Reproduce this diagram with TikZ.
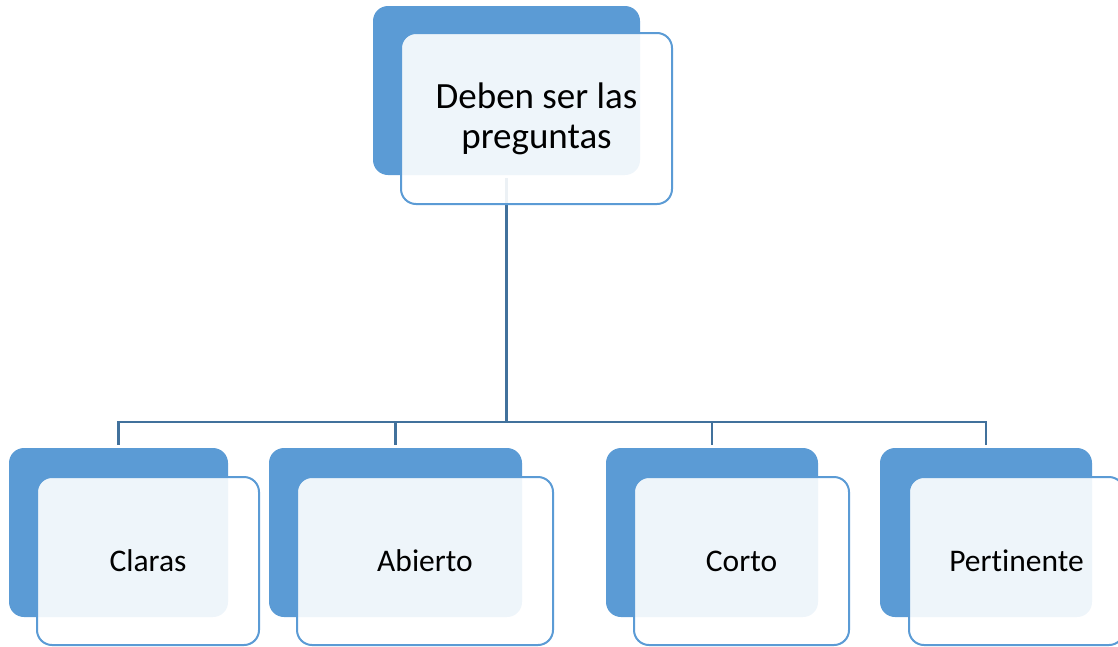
\documentclass[tikz,border=0pt]{standalone}
\usepackage{fontspec}
\setmainfont{Carlito}[Ligatures=NoCommon]
\definecolor{boxblue}{HTML}{5B9BD5}
\definecolor{linkblue}{HTML}{41719C}
\tikzset{
	back/.style={rectangle, rounded corners=15pt, fill=boxblue, inner sep=0pt, outer sep=0pt, minimum height=169pt},
	front/.style={rectangle, rounded corners=15pt, draw=boxblue, line width=2pt, fill=white, fill opacity=0.9, text opacity=1, inner sep=0pt, outer sep=0pt, align=center, minimum height=168pt, font=\fontsize{31.5}{37}\selectfont},
	link/.style={draw=linkblue, line width=2.2pt}
}
\begin{document}
\begin{tikzpicture}[x=1pt,y=-1pt]
\useasboundingbox (0,0) rectangle (1118,646);
% back boxes
\node[back, minimum width=267pt] (top-back) at (506.5,90.5) {};
\node[back, minimum width=219pt] (claras-back) at (118.5,532.5) {};
\node[back, minimum width=253pt] (abierto-back) at (395.5,532.5) {};
\node[back, minimum width=212pt] (corto-back) at (712,532.5) {};
\node[back, minimum width=212pt] (pertinente-back) at (986,532.5) {};
% connectors
\coordinate (bus) at (506.5,422);
\draw[link, shorten <=3pt] (top-back.south) -- (bus);
\foreach \n in {claras,abierto,corto,pertinente}
	\draw[link, shorten >=3pt] (bus) -| (\n-back.north);
% front boxes
\node[front, minimum width=271pt, minimum height=171pt, font=\fontsize{37}{40}\selectfont] (top) at (536.5,118.5) {Deben ser las\\preguntas};
\node[front, minimum width=222pt] (claras) at (148,561) {Claras};
\node[front, minimum width=256pt] (abierto) at (425,561) {Abierto};
\node[front, minimum width=215pt] (corto) at (741.5,561) {Corto};
\node[front, minimum width=215pt] (pertinente) at (1016.5,561) {Pertinente};
\end{tikzpicture}
\end{document}
